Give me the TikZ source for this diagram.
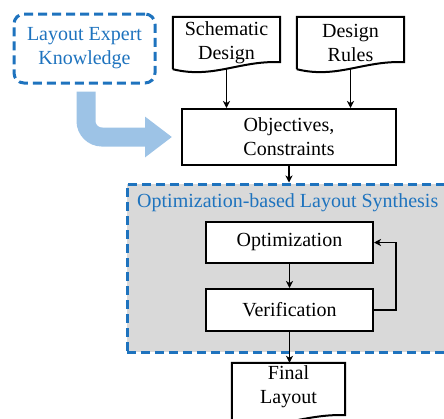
\documentclass[tikz,border=0pt]{standalone}
\usepackage{fontspec}
\setmainfont{Liberation Serif}
\usetikzlibrary{arrows.meta}
\definecolor{expblue}{RGB}{30,115,190}
\definecolor{lightblue}{RGB}{157,195,230}
\definecolor{synthgray}{RGB}{217,217,217}
\begin{document}
\begin{tikzpicture}[x=1pt,y=-1pt,
    font=\fontsize{20}{24}\selectfont,
    box/.style={draw,line width=2pt,fill=white,inner sep=0pt,align=center},
    doc/.style={inner sep=0pt,align=center},
    arr/.style={line width=1.5pt,-{Stealth[length=7pt,width=7pt,inset=2pt]}},
    blued/.style={draw=expblue,line width=3pt,dash pattern=on 9pt off 5pt}]
  \useasboundingbox (0,0) rectangle (444,418);
  \node[blued,rounded corners=10pt,minimum width=141pt,minimum height=69pt,text=expblue,align=center,inner sep=0pt] (expert) at (84.5,48.5) {Layout Expert\\Knowledge};
  \node[doc,minimum width=107pt,minimum height=52pt] (schem) at (226.5,43) {Schematic\\Design};
  \node[doc,minimum width=107pt,minimum height=52pt] (rules) at (350.5,43) {Design\\Rules};
  \node[box,minimum width=214pt,minimum height=56pt] (obj) at (289,137) {Objectives,\\Constraints};
  \node[blued,fill=synthgray,minimum width=320pt,minimum height=168pt] (synth) at (287,268) {};
  \node[text=expblue,anchor=base west,inner sep=0pt] (synthtitle) at (137,207) {Optimization-based Layout Synthesis};
  \node[box,minimum width=167pt,minimum height=41pt] (opt) at (289.5,242.5) {Optimization};
  \node[box,minimum width=167pt,minimum height=42pt] (ver) at (289.5,310) {Verification};
  \node[doc,minimum width=113pt,minimum height=47pt] (final) at (288.5,386.5) {Final\\Layout};
  \foreach \n/\d in {schem/0,rules/0,final/12}
    \draw[line width=2pt] ([yshift=-\d pt]\n.south west) -- (\n.north west) -- (\n.north east) -- ([yshift=7pt-\d pt]\n.south east) .. controls +(-40pt,2pt) and +(40pt,-10pt) .. ([yshift=-\d pt]\n.south west);
  \draw[draw=lightblue,line width=19pt,rounded corners=16pt,-{Triangle[length=27pt,width=39pt]}] ([xshift=1.5pt,yshift=-7pt]expert.south) |- ([xshift=-9pt]obj.west);
  \draw[arr] (schem.south) -- (schem.south |- obj.north);
  \draw[arr] (rules.south) -- (rules.south |- obj.north);
  \draw[arr] (obj.south) -- (obj.south |- synth.north);
  \draw[arr] (opt.south) -- (ver.north);
  \draw[arr] (ver.east) -- ++(22pt,0) |- (opt.east);
  \draw[arr] (ver.south) -- (ver.south |- final.north);
\end{tikzpicture}
\end{document}
